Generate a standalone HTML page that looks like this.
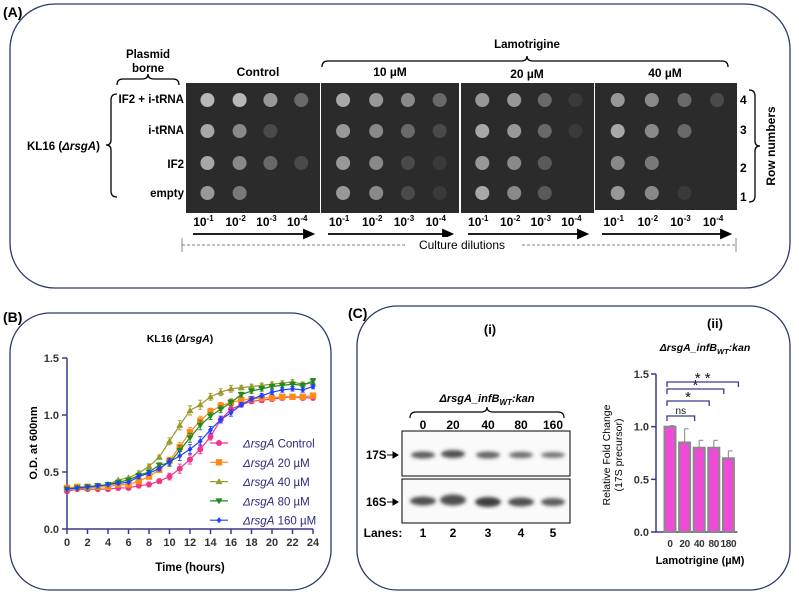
<!DOCTYPE html>
<html><head><meta charset="utf-8"><style>
html,body{margin:0;padding:0;background:#fff;width:799px;height:594px;overflow:hidden}
svg{display:block;font-family:"Liberation Sans",sans-serif}
.b{font-weight:bold}
</style></head><body>
<svg id="fig" width="799" height="594" viewBox="0 0 799 594">
<!-- Panel A -->
<g>
<rect x="10" y="4" width="780" height="284" rx="45" fill="none" stroke="#2a3a6a" stroke-width="1.3"/>
<text x="3" y="17" class="b" font-size="14">(A)</text>
<text x="148" y="58" class="b" font-size="11.5" text-anchor="middle">Plasmid</text>
<text x="148" y="72" class="b" font-size="11.5" text-anchor="middle">borne</text>
<path d="M117 85 q0 -6 6 -6 h19 q6 0 6 -5 q0 5 6 5 h19 q6 0 6 6" fill="none" stroke="#000" stroke-width="1.3"/>
<text x="258" y="76" class="b" font-size="12" text-anchor="middle">Control</text>
<text x="527" y="48" class="b" font-size="11.5" text-anchor="middle">Lamotrigine</text>
<path d="M322 67 q0 -6 6 -6 h193 q6 0 6 -5 q0 5 6 5 h189 q6 0 6 6" fill="none" stroke="#000" stroke-width="1.3"/>
<text x="390" y="76" class="b" font-size="12" text-anchor="middle">10 µM</text>
<text x="527" y="78" class="b" font-size="12" text-anchor="middle">20 µM</text>
<text x="665" y="77" class="b" font-size="12" text-anchor="middle">40 µM</text>
<g class="b" font-size="11.5" text-anchor="end">
<text x="184" y="103">IF2 + i-tRNA</text>
<text x="184" y="134">i-tRNA</text>
<text x="184" y="168">IF2</text>
<text x="184" y="197">empty</text>
</g>
<text x="27" y="150" class="b" font-size="11.5">KL16 (<tspan font-style="italic">ΔrsgA</tspan>)</text>
<path d="M117 94 q-6 0 -6 6 v40 q0 5 -5 5 q5 0 5 5 v41 q0 6 6 6" fill="none" stroke="#000" stroke-width="1.3"/>
<g id="plates"></g>
<line x1="182" y1="245" x2="736" y2="245" stroke="#555" stroke-dasharray="3,2" stroke-width="0.8"/>
<line x1="182" y1="238" x2="182" y2="252" stroke="#888"/>
<line x1="736" y1="238" x2="736" y2="252" stroke="#888"/>
<rect x="405" y="237" width="115" height="16" fill="#fff"/>
<text x="462" y="249" font-size="12" text-anchor="middle">Culture dilutions</text>
<g class="b" font-size="12">
<text x="740" y="104">4</text>
<text x="740" y="134">3</text>
<text x="740" y="172">2</text>
<text x="740" y="201">1</text>
</g>
<path d="M749 90 q6 0 6 6 v45 q0 5 5 5 q-5 0 -5 5 v45 q0 6 -6 6" fill="none" stroke="#000" stroke-width="1.3"/>
<text transform="translate(775,146) rotate(-90)" class="b" font-size="12" text-anchor="middle">Row numbers</text>
</g>

<!-- Panel B -->
<g>
<rect x="10" y="313" width="321" height="277" rx="40" fill="none" stroke="#2a3a6a" stroke-width="1.3"/>
<text x="3" y="322" class="b" font-size="14">(B)</text>
<text x="180" y="342" class="b" font-size="10.5" text-anchor="middle">KL16 (<tspan font-style="italic">ΔrsgA</tspan>)</text>
<g id="growth"></g>
<text x="190" y="571" class="b" font-size="11.5" text-anchor="middle">Time  (hours)</text>
<text transform="translate(37,443) rotate(-90)" class="b" font-size="11" text-anchor="middle">O.D. at 600nm</text>
</g>

<!-- Panel C -->
<g>
<rect x="357" y="306" width="433" height="284" rx="40" fill="none" stroke="#2a3a6a" stroke-width="1.3"/>
<text x="348" y="318" class="b" font-size="14">(C)</text>
<text x="490" y="334" class="b" font-size="13" text-anchor="middle">(i)</text>
<text x="715" y="328" class="b" font-size="13" text-anchor="middle">(ii)</text>
<text x="487" y="402" class="b" font-size="11" font-style="italic" text-anchor="middle">ΔrsgA_infB<tspan font-size="8" dy="3">WT</tspan><tspan dy="-3">:kan</tspan></text>
<path d="M410 418 q0 -6 6 -6 h65 q6 0 6 -5 q0 5 6 5 h65 q6 0 6 6" fill="none" stroke="#000" stroke-width="1.2"/>
<g class="b" font-size="12" text-anchor="middle">
<text x="423" y="429">0</text>
<text x="453" y="429">20</text>
<text x="488" y="429">40</text>
<text x="521" y="429">80</text>
<text x="553" y="429">160</text>
</g>
<defs><filter id="blur"><feGaussianBlur stdDeviation="1.8"/></filter></defs>
<rect x="402" y="431" width="168" height="45" fill="#fafafa" stroke="#000"/>
<rect x="402" y="479" width="168" height="44" fill="#fafafa" stroke="#000"/>
<g filter="url(#blur)" fill="#333">
<ellipse cx="423" cy="455" rx="12" ry="3.5" opacity="0.8"/>
<ellipse cx="453" cy="454" rx="12" ry="4" opacity="0.85"/>
<ellipse cx="488" cy="455" rx="12" ry="3.5" opacity="0.75"/>
<ellipse cx="521" cy="455" rx="12" ry="3.2" opacity="0.7"/>
<ellipse cx="553" cy="455" rx="12" ry="3" opacity="0.65"/>
<ellipse cx="423" cy="501" rx="13" ry="4.5" opacity="0.85"/>
<ellipse cx="453" cy="500" rx="13" ry="5.5" opacity="0.85"/>
<ellipse cx="488" cy="502" rx="13" ry="5" opacity="0.95"/>
<ellipse cx="521" cy="502" rx="13" ry="4.5" opacity="0.85"/>
<ellipse cx="553" cy="502" rx="12" ry="4" opacity="0.8"/>
</g>
<text x="366" y="459" class="b" font-size="11.5">17S</text>
<text x="366" y="506" class="b" font-size="11.5">16S</text>
<path d="M387 455 h10 M393 452 l5 3 l-5 3z M387 502 h10 M393 499 l5 3 l-5 3z" stroke="#000" fill="#000"/>
<g class="b" font-size="12" text-anchor="middle">
<text x="383" y="537">Lanes:</text>
<text x="423" y="537">1</text>
<text x="453" y="537">2</text>
<text x="488" y="537">3</text>
<text x="521" y="537">4</text>
<text x="553" y="537">5</text>
</g>
<text x="705" y="351" class="b" font-size="10.5" font-style="italic" text-anchor="middle">ΔrsgA_infB<tspan font-size="7.5" dy="3">WT</tspan><tspan dy="-3">:kan</tspan></text>
<g id="bars"></g>
<text x="700" y="564" class="b" font-size="11" text-anchor="middle">Lamotrigine (µM)</text>
<text transform="translate(610,455) rotate(-90)" font-size="10.5" text-anchor="middle">Relative Fold Change</text>
<text transform="translate(622,455) rotate(-90)" font-size="10.5" text-anchor="middle">(17S precursor)</text>
</g>
</svg>
<script>
// ---------- Growth chart data ----------
const hours = [0,1,2,3,4,5,6,7,8,9,10,11,12,13,14,15,16,17,18,19,20,21,22,23,24];
const odControl = [0.33,0.35,0.35,0.35,0.35,0.36,0.36,0.38,0.39,0.42,0.46,0.53,0.61,0.70,0.81,0.96,1.05,1.09,1.12,1.13,1.14,1.15,1.16,1.15,1.15];
const od20 = [0.36,0.37,0.37,0.37,0.37,0.39,0.39,0.42,0.46,0.52,0.60,0.72,0.85,0.95,1.03,1.08,1.11,1.13,1.14,1.15,1.15,1.16,1.16,1.16,1.17];
const od40 = [0.35,0.36,0.36,0.37,0.39,0.43,0.45,0.49,0.55,0.63,0.77,0.91,1.04,1.09,1.16,1.20,1.23,1.24,1.25,1.26,1.27,1.28,1.29,1.27,1.28];
const od80 = [0.35,0.36,0.37,0.38,0.39,0.41,0.43,0.47,0.50,0.56,0.58,0.69,0.80,0.91,0.99,1.05,1.11,1.18,1.21,1.23,1.25,1.26,1.27,1.26,1.30];
const od160 = [0.35,0.36,0.37,0.38,0.39,0.40,0.41,0.46,0.49,0.53,0.59,0.64,0.70,0.77,0.87,0.96,1.02,1.09,1.14,1.17,1.20,1.22,1.23,1.22,1.25];
const odErr = [0.01,0.01,0.01,0.01,0.01,0.01,0.01,0.02,0.02,0.02,0.03,0.04,0.04,0.04,0.03,0.03,0.03,0.02,0.02,0.02,0.02,0.02,0.02,0.02,0.02];
const seriesNames = ["Control","20 µM","40 µM","80 µM","160 µM"];
const xTicks = [0,2,4,6,8,10,12,14,16,18,20,22,24];
const yTicks = [0.0,0.5,1.0,1.5];
// ---------- Bar chart data ----------
const barCats = ["0","20","40","80","180"];
const barVals = [1.0,0.85,0.80,0.80,0.70];
const barErr = [0.01,0.13,0.07,0.07,0.07];
const barYTicks = [0.0,0.5,1.0,1.5];

const NS="http://www.w3.org/2000/svg";
function mk(tag,attrs,parent){const e=document.createElementNS(NS,tag);for(const k in attrs)e.setAttribute(k,attrs[k]);parent.appendChild(e);return e;}

// ---------- Plates (decorative photo) ----------
(function(){
 const g=document.getElementById('plates');
 const plates=[[186,320,83,213],[321,459,83,213],[461,594,83,213],[595,737,83,210]];
 const inten=[[[.9,.9,.7,.4],[.8,.6,.2,0],[.8,.6,.4,.2],[.7,.5,0,0]],
   [[.8,.7,.6,.4],[.7,.6,.4,.2],[.7,.6,.2,.1],[.7,.6,.2,.1]],
   [[.7,.7,.4,.1],[.8,.7,.4,.1],[.7,.6,.3,0],[.8,.6,.3,0]],
   [[.7,.6,.4,.2],[.8,.6,.4,0],[.6,.5,0,0],[.7,.6,.1,0]]];
 const rows=[100,131,163,193];
 const dil=["1","2","3","4"];
 plates.forEach((p,i)=>{
  const r=mk('rect',{x:p[0],y:p[2],width:p[1]-p[0],height:p[3]-p[2],fill:'#2b2b2b'},g);
  
  
  const w=p[1]-p[0];
  const cols=[0.16,0.4,0.63,0.86].map(f=>p[0]+f*w);
  rows.forEach((y,ri)=>cols.forEach((x,ci)=>{
   const v=inten[i][ri][ci]; if(v<=0)return;
   const c=mk('circle',{cx:x,cy:y,r:7,fill:'#c8c8c8','fill-opacity':v},g);
   
   
  }));
  cols.forEach((x,ci)=>{
   const t=mk('text',{x:x-4,y:226,'font-size':12,'font-weight':'bold','text-anchor':'middle'},g);
   t.textContent='10';
   const s=mk('tspan',{'font-size':8,dy:-5},t); s.textContent='-'+dil[ci];
   
   
  });
  const a=mk('path',{d:`M${p[0]+7} 234 H${p[1]-14} M${p[1]-16} 230 l9 4 l-9 4z`,stroke:'#000','stroke-width':1.8,fill:'#000'},g);
  
  
 });
})();

// ---------- Growth chart ----------
(function(){
 const g=document.getElementById('growth');
 const x0=67,x1=313,yb=529,yt=358;
 const X=h=>x0+(h-0)/24*(x1-x0);
 const Y=v=>yb-(v/1.5)*(yb-yt);
 const ax='#3a3a8c';
 const axl=mk('path',{d:`M${x0} ${yt} V${yb} H${x1}`,stroke:ax,'stroke-width':1.5,fill:'none'},g);
 
 
 yTicks.forEach(v=>{
  const l=mk('line',{x1:x0-5,x2:x0,y1:Y(v),y2:Y(v),stroke:ax,'stroke-width':1.5},g);
  
  
  const t=mk('text',{x:x0-8,y:Y(v)+4,'font-size':11,'font-weight':'bold','text-anchor':'end',fill:'#333'},g);
  t.textContent=v.toFixed(1);
  
  
 });
 xTicks.forEach(h=>{
  const l=mk('line',{x1:X(h),x2:X(h),y1:yb,y2:yb+5,stroke:ax,'stroke-width':1.5},g);
  
  
  const t=mk('text',{x:X(h),y:yb+17,'font-size':11,'font-weight':'bold','text-anchor':'middle',fill:'#333'},g);
  t.textContent=h;
  
  
 });
 const all=[odControl,od20,od40,od80,od160];
 const cols=['#f0338f','#ff8a1a','#9a9a2a','#1f8a1f','#2040ff'];
 const shapes=['circle','square','tri','tridown','diamond'];
 function marker(shape,x,y,c,parent){
  let e;
  if(shape==='circle') e=mk('circle',{cx:x,cy:y,r:3,fill:c},parent);
  else if(shape==='square') e=mk('rect',{x:x-3.2,y:y-3.2,width:6.4,height:6.4,fill:c},parent);
  else if(shape==='tri') e=mk('path',{d:`M${x} ${y-3.5} l3.5 6 h-7z`,fill:c},parent);
  else if(shape==='tridown') e=mk('path',{d:`M${x} ${y+3.5} l3.5 -6 h-7z`,fill:c},parent);
  else e=mk('path',{d:`M${x} ${y-3} l2.5 3 l-2.5 3 l-2.5 -3z`,fill:c},parent);
  
  
 }
 all.forEach((s,si)=>{
  const sg=mk('g',{},g);
  
  
  s.forEach((v,i)=>{ if(odErr[i]>0.015){
   const e=mk('path',{d:`M${X(hours[i])} ${Y(v-odErr[i])} V${Y(v+odErr[i])} M${X(hours[i])-2} ${Y(v+odErr[i])} h4 M${X(hours[i])-2} ${Y(v-odErr[i])} h4`,stroke:cols[si],'stroke-width':0.9},sg);
   
   
  }});
  const ln=mk('polyline',{points:s.map((v,i)=>X(hours[i])+','+Y(v)).join(' '),fill:'none',stroke:cols[si],'stroke-width':1.2},sg);
  
  
  s.forEach((v,i)=>marker(shapes[si],X(hours[i]),Y(v),cols[si],sg));
  const ly=443+si*19.3;
  const ll=mk('line',{x1:210,x2:228,y1:ly,y2:ly,stroke:cols[si],'stroke-width':1.2},g);
  
  
  marker(shapes[si],219,ly,cols[si],g);
  const t=mk('text',{x:243,y:ly+4.5,'font-size':11.5,fill:'#2a2a80'},g);
  const it=mk('tspan',{'font-style':'italic'},t); it.textContent='ΔrsgA';
  const rt=mk('tspan',{},t); rt.textContent=' '+seriesNames[si];
  
  
 });
})();

// ---------- Bar chart ----------
(function(){
 const g=document.getElementById('bars');
 const x0=656,yb=532,yt=374,step=14.6,first=670;
 const Y=v=>yb-(v/1.5)*(yb-yt);
 const X=i=>first+i*step;
 const ax='#3a3a8c';
 const a=mk('path',{d:`M${x0} ${yt} V${yb} H${X(barCats.length-1)+9}`,stroke:ax,'stroke-width':1.5,fill:'none'},g);
 
 
 barYTicks.forEach(v=>{
  const l=mk('line',{x1:x0-5,x2:x0,y1:Y(v),y2:Y(v),stroke:ax,'stroke-width':1.5},g);
  
  
  const t=mk('text',{x:x0-7,y:Y(v)+4,'font-size':11,'font-weight':'bold','text-anchor':'end',fill:'#333'},g);
  t.textContent=v.toFixed(1);
  
  
 });
 barCats.forEach((c,i)=>{
  const e=mk('path',{d:`M${X(i)} ${Y(barVals[i])} V${Y(barVals[i]+barErr[i])} M${X(i)} ${Y(barVals[i]+barErr[i])} h4`,stroke:'#999','stroke-width':1.2,fill:'none'},g);
  
  
  const r=mk('rect',{x:X(i)-5.5,y:Y(barVals[i]),width:11,height:yb-Y(barVals[i]),fill:'#f04ad8',stroke:'#888','stroke-width':2},g);
  
  
  const t=mk('text',{x:X(i),y:yb+15,'font-size':10,'font-weight':'bold','text-anchor':'middle',fill:'#333','letter-spacing':'-0.3'},g);
  t.textContent=c;
  
  
 });
 const sig=[[1,'ns',416],[2,'*',401],[3,'*',389],[4,'**',382]];
 sig.forEach(s=>{
  const x2=X(s[0])+10;
  const p=mk('path',{d:`M${first-3} ${s[2]+5} V${s[2]} H${x2} V${s[2]+5}`,stroke:ax,'stroke-width':1.3,fill:'none'},g);
  
  
  const t=mk('text',{x:(first-3+x2)/2,y:s[1]==='ns'?s[2]-2:s[2]+1,'font-size':s[1]==='ns'?10:15,'text-anchor':'middle',fill:'#111'},g);
  t.textContent=s[1]==='**'?'* *':s[1];
  
  
 });
})();
</script>
</body></html>
